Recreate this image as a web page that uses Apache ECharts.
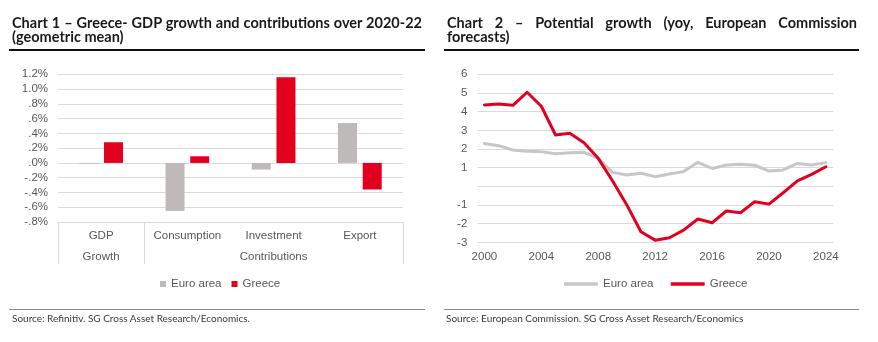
<!DOCTYPE html>
<html>
<head>
<meta charset="utf-8">
<script src="https://cdn.jsdelivr.net/npm/echarts@6/dist/echarts.min.js"></script>
<style>
  html, body { margin: 0; padding: 0; background: #fff; }
  #wrap { position: relative; width: 878px; height: 342px; overflow: hidden; }
  #chart { position: absolute; left: 0; top: 0; width: 878px; height: 342px; }
  .tl { position: absolute; font-family: Lato, "Noto Sans", sans-serif; font-weight: 700;
        font-size: 14.5px; line-height: 14px; color: #1a1a1a; white-space: nowrap; }
  .just { text-align: justify; text-align-last: justify; white-space: normal; }
  .rule { position: absolute; height: 2px; background: #111; }
  .srule { position: absolute; height: 1px; background: #8a8a8a; }
  .src { position: absolute; font-family: Lato, "Noto Sans", sans-serif; font-size: 10px;
         color: #3a3a3a; white-space: nowrap; }
</style>
</head>
<body>
<div id="wrap">
  <div id="chart"></div>

  <div class="tl just" style="left:12px; top:15.7px; width:410px;">Chart 1 – Greece- GDP growth and contributions over 2020-22</div>
  <div class="tl" style="left:12px; top:30.2px;">(geometric mean)</div>
  <div class="rule" style="left:9px; top:49px; width:416px;"></div>

  <div class="tl just" style="left:447px; top:15.7px; width:410px;">Chart 2 – Potential growth (yoy, European Commission</div>
  <div class="tl" style="left:447px; top:30.2px;">forecasts)</div>
  <div class="rule" style="left:444px; top:49px; width:415px;"></div>

  <div class="srule" style="left:9px; top:309px; width:416px;"></div>
  <div class="src" style="left:12px; top:312px;">Source: Refinitiv. SG Cross Asset Research/Economics.</div>

  <div class="srule" style="left:444px; top:309px; width:415px;"></div>
  <div class="src" style="left:446px; top:312px;">Source: European Commission. SG Cross Asset Research/Economics</div>
</div>

<script>
// Keep each justified title line on a single line: shrink the font slightly if it would wrap.
document.querySelectorAll('.just').forEach(function (el) {
  let fs = parseFloat(getComputedStyle(el).fontSize);
  while (el.offsetHeight > 16 && fs > 10) {
    fs -= 0.1;
    el.style.fontSize = fs + 'px';
  }
});

// Chart 1: GDP growth and contributions, 2020-22 geometric mean (%)
const barCategories = ['GDP', 'Consumption', 'Investment', 'Export'];
const barGroupLabels = ['Growth', '', 'Contributions', ''];
const euroAreaContrib = [-0.01, -0.65, -0.09, 0.54];
const greeceContrib = [0.28, 0.09, 1.16, -0.36];
const barAxisMin = -0.8;
const barAxisMax = 1.2;
const barAxisStep = 0.2;

// Chart 2: potential growth, yoy %
const years = ['2000', '2001', '2002', '2003', '2004', '2005', '2006', '2007', '2008',
  '2009', '2010', '2011', '2012', '2013', '2014', '2015', '2016', '2017', '2018',
  '2019', '2020', '2021', '2022', '2023', '2024'];
const euroAreaPotential = [2.30, 2.18, 1.95, 1.88, 1.86, 1.75, 1.80, 1.82, 1.50,
  0.75, 0.61, 0.70, 0.52, 0.66, 0.79, 1.29, 0.96, 1.14, 1.18, 1.13, 0.82, 0.88,
  1.23, 1.14, 1.27];
const greecePotential = [4.36, 4.41, 4.34, 5.04, 4.29, 2.75, 2.84, 2.34, 1.50,
  0.30, -0.98, -2.43, -2.88, -2.75, -2.34, -1.75, -1.95, -1.32, -1.41, -0.82,
  -0.95, -0.34, 0.29, 0.64, 1.05];
const lineAxisMin = -3;
const lineAxisMax = 6;
const lineAxisStep = 1;

const GREY_BAR = '#bfb9b9';
const GREY_LINE = '#c9c6c6';
const RED = '#e3001f';
const GRID = '#dadada';
const LABEL = '#595959';
const FONT = '"Liberation Sans", Arial, sans-serif';
const FS = 11.5;

function pctLabel(v) {
  let s = (Math.round(v * 10) / 10).toFixed(1);
  s = s.replace(/^(-?)0\./, '$1.');
  return s + '%';
}

const chart = echarts.init(document.getElementById('chart'), null, { renderer: 'canvas' });

chart.setOption({
  animation: false,
  backgroundColor: '#fff',
  textStyle: { fontFamily: FONT },
  grid: [
    { left: 58, right: 475, top: 74.3, bottom: 120, containLabel: false },
    { left: 477.3, right: 45, top: 74.3, bottom: 99.6, containLabel: false }
  ],
  legend: [
    {
      left: 160, top: 278, padding: 0,
      icon: 'rect', itemWidth: 6, itemHeight: 6, itemGap: 10,
      textStyle: { color: LABEL, fontSize: FS, fontFamily: FONT },
      data: [{ name: 'Euro area' }, { name: 'Greece' }]
    },
    {
      left: 564, top: 278, padding: 0,
      icon: 'roundRect', itemWidth: 34, itemHeight: 3.5, itemGap: 14,
      textStyle: { color: LABEL, fontSize: FS, fontFamily: FONT },
      data: [{ name: 'Euro area ' }, { name: 'Greece ' }]
    }
  ],
  xAxis: [
    {
      gridIndex: 0, type: 'category', data: barCategories, position: 'bottom',
      axisLine: { show: true, onZero: false, lineStyle: { color: GRID, width: 1 } },
      axisTick: {
        show: true, length: 42, lineStyle: { color: GRID, width: 1 },
        interval: function (index) { return index === 0 || index === 1; }
      },
      axisLabel: { color: LABEL, fontSize: FS, fontFamily: FONT, margin: 8, interval: 0 },
      splitLine: { show: false }
    },
    {
      gridIndex: 0, type: 'category', data: barGroupLabels, position: 'bottom', offset: 21,
      axisLine: { show: false, onZero: false },
      axisTick: { show: false },
      axisLabel: { color: LABEL, fontSize: FS, fontFamily: FONT, margin: 8, interval: 0 },
      splitLine: { show: false }
    },
    {
      gridIndex: 1, type: 'category', data: years, boundaryGap: true,
      axisLine: { show: false, onZero: false },
      axisTick: { show: false },
      axisLabel: { color: LABEL, fontSize: FS, fontFamily: FONT, margin: 8, interval: 3 },
      splitLine: { show: false }
    }
  ],
  yAxis: [
    {
      gridIndex: 0, type: 'value', min: barAxisMin, max: barAxisMax, interval: barAxisStep,
      axisLine: { show: false }, axisTick: { show: false },
      axisLabel: { color: LABEL, fontSize: FS, fontFamily: FONT, margin: 10, formatter: pctLabel },
      splitLine: { show: true, lineStyle: { color: GRID, width: 1 } }
    },
    {
      gridIndex: 1, type: 'value', min: lineAxisMin, max: lineAxisMax, interval: lineAxisStep,
      axisLine: { show: false }, axisTick: { show: false },
      axisLabel: {
        color: LABEL, fontSize: FS, fontFamily: FONT, margin: 10,
        formatter: function (v) { return v === 0 ? '' : String(v); }
      },
      splitLine: { show: true, lineStyle: { color: GRID, width: 1 } }
    }
  ],
  series: [
    {
      name: 'Euro area', type: 'bar', xAxisIndex: 0, yAxisIndex: 0,
      data: euroAreaContrib, barWidth: 19, barGap: '30%',
      itemStyle: { color: GREY_BAR }
    },
    {
      name: 'Greece', type: 'bar', xAxisIndex: 0, yAxisIndex: 0,
      data: greeceContrib, barWidth: 19, barGap: '30%',
      itemStyle: { color: RED }
    },
    {
      name: 'Euro area ', type: 'line', xAxisIndex: 2, yAxisIndex: 1,
      data: euroAreaPotential, symbol: 'none', smooth: false,
      lineStyle: { color: GREY_LINE, width: 3, cap: 'round', join: 'round' },
      itemStyle: { color: GREY_LINE }
    },
    {
      name: 'Greece ', type: 'line', xAxisIndex: 2, yAxisIndex: 1,
      data: greecePotential, symbol: 'none', smooth: false,
      lineStyle: { color: RED, width: 3, cap: 'round', join: 'round' },
      itemStyle: { color: RED }
    }
  ]
});
</script>
</body>
</html>
